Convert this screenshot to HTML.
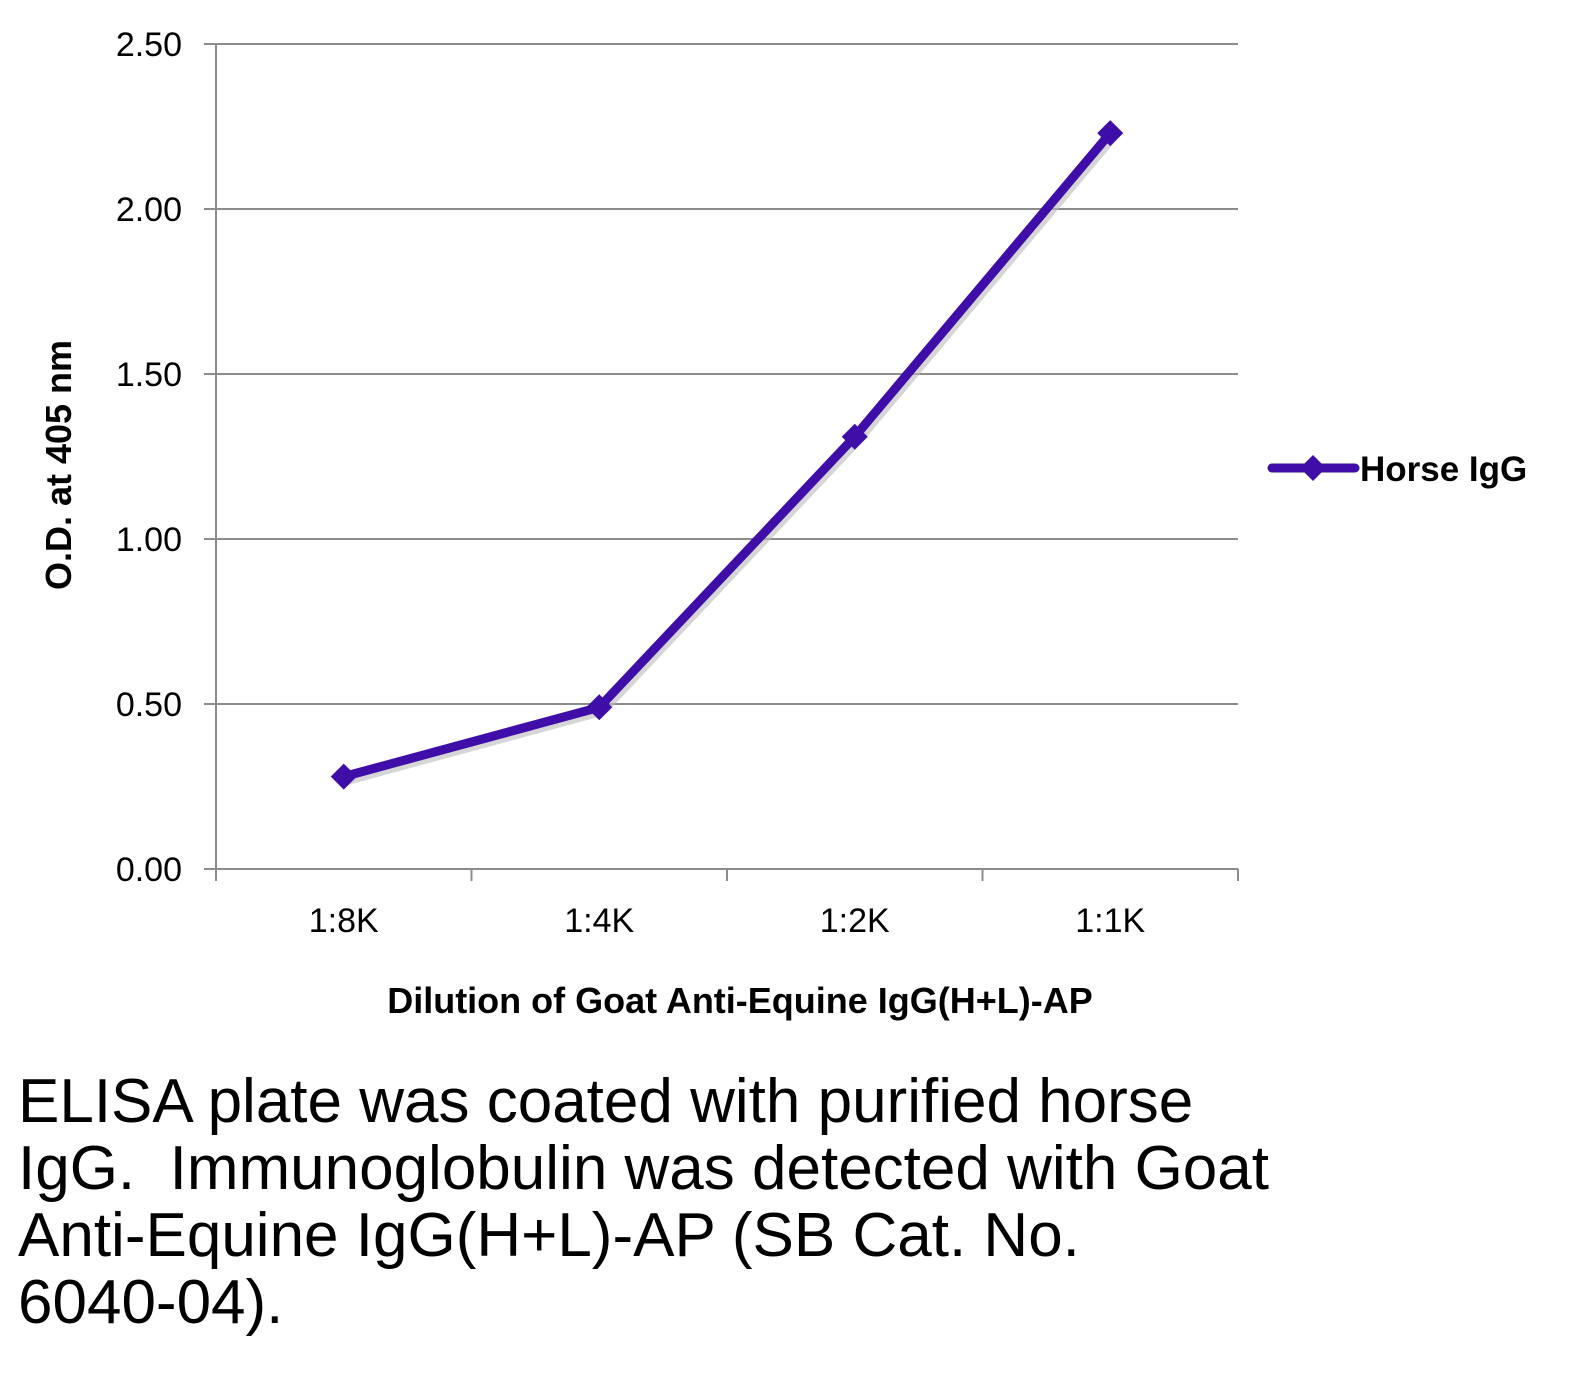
<!DOCTYPE html>
<html><head><meta charset="utf-8"><style>
body{margin:0;background:#fff;width:1589px;height:1374px;overflow:hidden;font-family:"Liberation Sans",sans-serif}
#caption{position:absolute;left:18px;top:1068px;font-size:62px;line-height:67px;color:#000;width:1560px;white-space:nowrap}
</style></head><body>
<svg id="chart" width="1589" height="1060" style="position:absolute;left:0;top:0" font-family="Liberation Sans, sans-serif"></svg>
<div id="caption">ELISA plate was coated with purified horse<br>IgG.&nbsp; Immunoglobulin was detected with Goat<br>Anti-Equine IgG(H+L)-AP (SB Cat. No.<br>6040-04).</div>
<script>
const categories=["1:8K","1:4K","1:2K","1:1K"];
const values=[0.28,0.49,1.31,2.23];
const yTicks=[0,0.5,1,1.5,2,2.5];
const yTickLabels=["0.00","0.50","1.00","1.50","2.00","2.50"];
const seriesName="Horse IgG";
const NS="http://www.w3.org/2000/svg";
const svg=document.getElementById('chart');
const X0=216,X1=1238,Y0=869,Y1=44,YMAX=2.5;
const bw=(X1-X0)/categories.length;
function xs(i){return X0+bw*(i+0.5);}
function ys(v){return Y0-(v/YMAX)*(Y0-Y1);}
function mk(t,a,name,txt){const e=document.createElementNS(NS,t);for(const k in a)e.setAttribute(k,a[k]);


if(txt!==undefined)e.textContent=txt;svg.appendChild(e);return e;}
yTicks.forEach((v,i)=>{
 if(v>0)mk('line',{x1:X0,x2:X1,y1:ys(v),y2:ys(v),stroke:'#8c8c8c','stroke-width':2},'gridline');
 mk('line',{x1:X0-12,x2:X0,y1:ys(v),y2:ys(v),stroke:'#8c8c8c','stroke-width':2},'y-tick');
 mk('text',{x:182,y:ys(v)+12,'text-anchor':'end','font-size':34},'y-tick-label',yTickLabels[i]);
});
mk('line',{x1:X0,x2:X0,y1:Y1,y2:Y0,stroke:'#8c8c8c','stroke-width':2},'y-axis');
mk('line',{x1:X0,x2:X1,y1:Y0,y2:Y0,stroke:'#8c8c8c','stroke-width':2},'x-axis');
for(let i=0;i<=categories.length;i++)mk('line',{x1:X0+bw*i,x2:X0+bw*i,y1:Y0,y2:Y0+12,stroke:'#8c8c8c','stroke-width':2},'x-tick');
categories.forEach((c,i)=>mk('text',{x:xs(i),y:932,'text-anchor':'middle','font-size':34},'x-tick-label',c));
mk('text',{x:740,y:1013,'text-anchor':'middle','font-size':36,'font-weight':'bold'},'x-axis-title','Dilution of Goat Anti-Equine IgG(H+L)-AP');
mk('text',{x:0,y:0,'text-anchor':'middle','font-size':36,'font-weight':'bold',transform:'translate(71,465) rotate(-90)'},'y-axis-title','O.D. at 405 nm');
const pts=values.map((v,i)=>xs(i)+','+ys(v)).join(' ');
mk('polyline',{points:pts,fill:'none',stroke:'#bbb','stroke-width':9,transform:'translate(3,4)',opacity:0.6},'line-shadow');
mk('polyline',{points:pts,fill:'none',stroke:'#3f0ea8','stroke-width':9,'stroke-linejoin':'round'},'series-line');
values.forEach((v,i)=>{const x=xs(i),y=ys(v);
 mk('polygon',{points:`${x},${y-13} ${x+13},${y} ${x},${y+13} ${x-13},${y}`,fill:'#3f0ea8'},'data-point');});
mk('line',{x1:1272,x2:1355,y1:468,y2:468,stroke:'#3f0ea8','stroke-width':9,'stroke-linecap':'round'},'legend-line');
mk('polygon',{points:'1313,455 1326,468 1313,481 1300,468',fill:'#3f0ea8'},'legend-marker');
mk('text',{x:1360,y:481,'font-size':35,'font-weight':'bold'},'legend-label',seriesName);
</script>
</body></html>
